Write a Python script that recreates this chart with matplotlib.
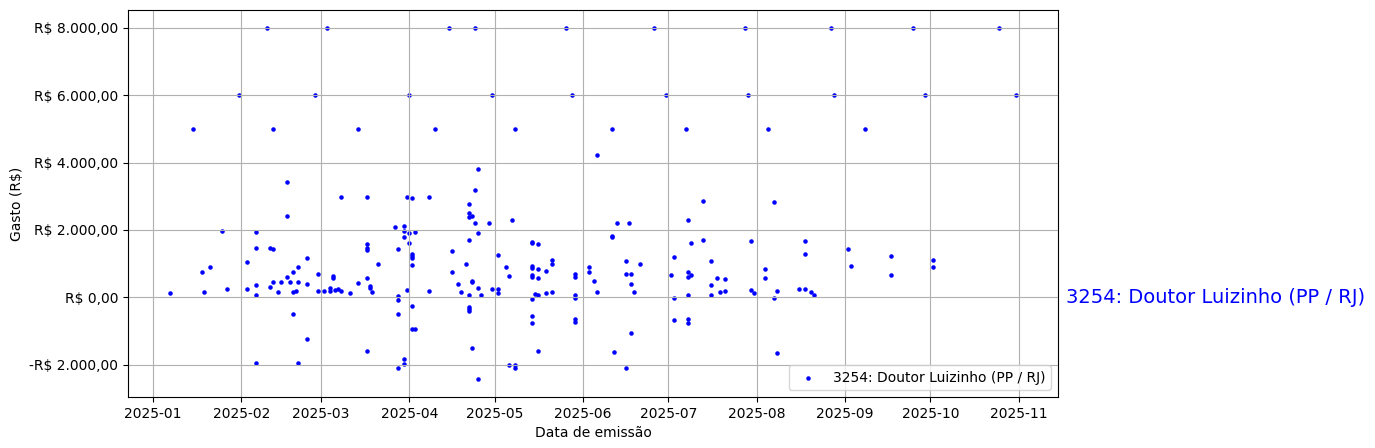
import matplotlib.pyplot as plt
import matplotlib.ticker as mticker
import matplotlib.transforms as mtransforms
import pandas as pd

nome = "3254: Doutor Luizinho (PP / RJ)"

# datas de emissao e valores gastos
datas = [
	"01-07", "01-15", "01-18", "01-19", "01-21", "01-25", "01-27", "01-31",
	"02-03", "02-03", "02-06", "02-06", "02-06", "02-06", "02-06", "02-10",
	"02-11", "02-11", "02-12", "02-12", "02-12", "02-14", "02-15", "02-17",
	"02-17", "02-17", "02-18", "02-19", "02-19", "02-19", "02-20", "02-21",
	"02-21", "02-21", "02-24", "02-24", "02-24", "02-27", "02-28", "02-28",
	"03-02", "03-03", "03-04", "03-04", "03-05", "03-05", "03-06", "03-07",
	"03-08", "03-08", "03-11", "03-14", "03-14", "03-17", "03-17", "03-17",
	"03-17", "03-17", "03-17", "03-18", "03-18", "03-19", "03-21", "03-27",
	"03-28", "03-28", "03-28", "03-28", "03-28", "03-30", "03-30", "03-30",
	"03-30", "03-30", "03-31", "03-31",
	"04-01", "04-01", "04-01", "04-02", "04-02", "04-02", "04-02", "04-02",
	"04-02", "04-02", "04-03", "04-03", "04-08", "04-08", "04-10", "04-15",
	"04-16", "04-16", "04-18", "04-19", "04-21", "04-22", "04-22", "04-22",
	"04-22", "04-22", "04-22", "04-22", "04-22", "04-23", "04-23", "04-23",
	"04-23", "04-24", "04-24", "04-24", "04-25", "04-25", "04-25", "04-25",
	"04-26", "04-29", "04-30", "04-30",
	"05-02", "05-02", "05-02", "05-05", "05-06", "05-06", "05-07", "05-08",
	"05-08", "05-08", "05-14", "05-14", "05-14", "05-14", "05-14", "05-14",
	"05-14", "05-14", "05-14", "05-15", "05-16", "05-16", "05-16", "05-16",
	"05-16", "05-19", "05-19", "05-21", "05-21", "05-21", "05-26", "05-28",
	"05-29", "05-29", "05-29", "05-29", "05-29", "05-29",
	"06-03", "06-03", "06-05", "06-06", "06-06", "06-11", "06-11", "06-11",
	"06-12", "06-13", "06-16", "06-16", "06-16", "06-17", "06-18", "06-18",
	"06-18", "06-19", "06-21", "06-26", "06-30",
	"07-02", "07-03", "07-03", "07-03", "07-07", "07-08", "07-08", "07-08",
	"07-08", "07-08", "07-08", "07-09", "07-09", "07-13", "07-13", "07-16",
	"07-16", "07-16", "07-18", "07-19", "07-21", "07-21", "07-28", "07-29",
	"07-30", "07-30", "07-31",
	"08-04", "08-04", "08-05", "08-07", "08-07", "08-08", "08-08", "08-16",
	"08-18", "08-18", "08-18", "08-20", "08-21", "08-27", "08-28",
	"09-02", "09-03", "09-08", "09-17", "09-17", "09-25", "09-29",
	"10-02", "10-02", "10-25", "10-31",
]

valores = [
	140, 5000, 740, 170, 890, 1960, 260, 6000,
	1040, 260, 1930, 1480, 380, 80, -1950, 8000,
	1480, 320, 1450, 470, 5000, 170, 470, 3420,
	2410, 620, 470, 740, -490, 170, 200, 470,
	-1950, 890, 1160, 410, -1230, 6000, 710, 200,
	200, 8000, 290, 200, 650, 590, 230, 260,
	2980, 200, 140, 5000, 440, 2980, 1570, 1480,
	1420, -1590, 590, 350, 290, 170, 980, 2080,
	1450, 50, -70, -490, -2100, 1960, 1780, -1830,
	-1980, 2110, 2980, 230,
	6000, 1900, 1600, 2950, 1300, 1220, 950, -250,
	-940, 1160, 1930, -940, 2980, 200, 5000, 8000,
	1390, 740, 410, 170, 980, 80, 2770, 2500,
	2380, 1690, -280, -340, -400, 2410, 500, 470,
	-1500, 3190, 2200, 8000, 3810, 1900, 290, -2430,
	80, 2200, 6000, 260,
	1250, 260, 140, 890, 650, -2010, 2290, 5000,
	-2010, -2100, 1630, 1610, 920, 860, 680, 620,
	-40, -550, -760, 110, 830, 590, 1570, 80,
	-1590, 770, 140, 1100, 980, 170, 8000, 6000,
	710, 620, 80, -10, -640, -730,
	890, 740, 500, 4230, 170, 5000, 1810, 1780,
	-1620, 2200, 1070, 710, -2100, 2200, 710, 410,
	-1050, 170, 980, 8000, 6000,
	680, 1190, -10, -670, 5000, 2290, 740, 620,
	80, -640, -760, 1600, 680, 2860, 1690, 1070,
	380, 80, 590, 170, 560, 200, 8000, 6000,
	230, 1660, 140,
	830, 590, 5000, 2830, -10, 200, -1650, 260,
	260, 1660, 1300, 170, 80, 8000, 6000,
	1450, 920, 5000, 1220, 680, 8000, 6000,
	1100, 890, 8000, 6000,
]

def formatReal(v, pos=None):
	"""Formata o valor em reais (R$ 1.234,56)"""
	s = "{:,.2f}".format(abs(v)).replace(",", "X").replace(".", ",").replace("X", ".")
	return ("-R$ " if v < 0 else "R$ ") + s

x = pd.to_datetime(["2025-" + d for d in datas])

fig = plt.figure(figsize=(13.75, 4.48), dpi=100)
ax = fig.add_axes([0.0931, 0.1138, 0.6764, 0.8639])

ax.scatter(x, valores, s=5, color="blue", label=nome)
ax.yaxis.set_major_formatter(mticker.FuncFormatter(formatReal))
ax.set_xlabel("Data de emissão")
ax.set_ylabel("Gasto (R$)")
ax.grid(True)
ax.legend(loc="lower right")

trans = mtransforms.blended_transform_factory(ax.transAxes, ax.transData)
ax.text(1.008, 0, nome, transform=trans, color="blue", fontsize=14, va="center", ha="left")

fig.savefig("out.png")
